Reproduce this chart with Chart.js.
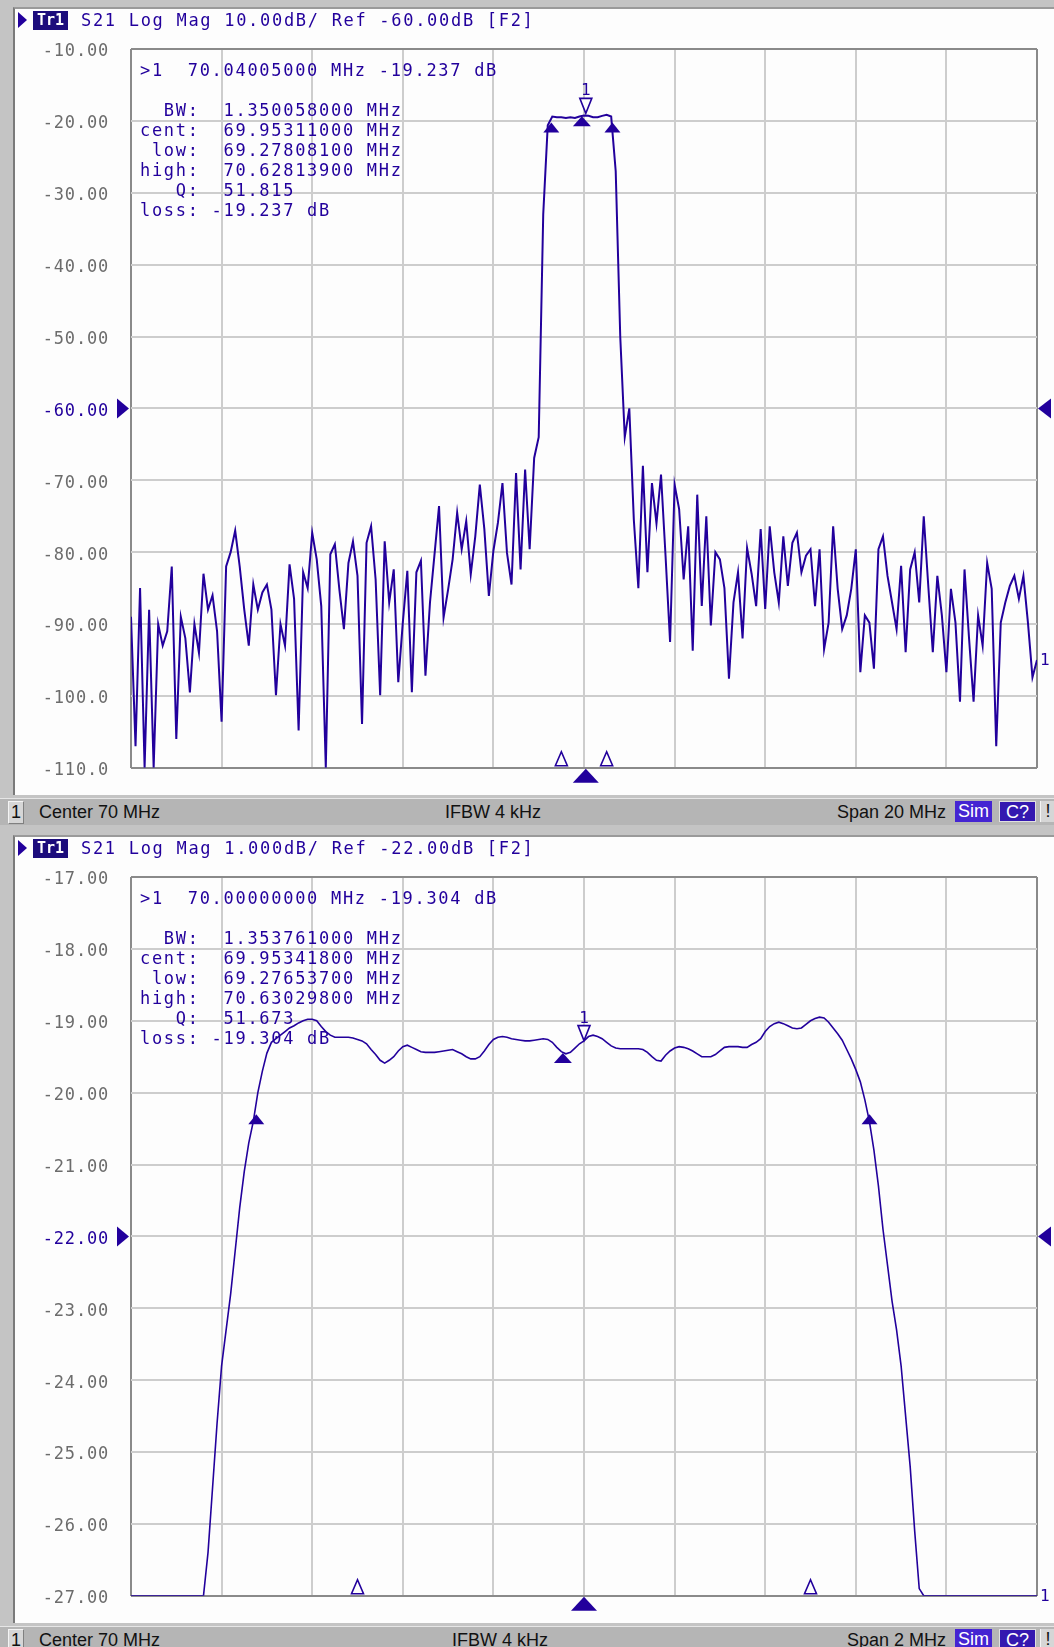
<!DOCTYPE html>
<html lang="en">
<head>
<meta charset="UTF-8">
<title>S21 Log Mag</title>
<script src="https://cdn.jsdelivr.net/npm/chart.js"></script>
<style>
  html, body { margin: 0; padding: 0; }
  body {
    width: 1054px; height: 1647px; overflow: hidden; position: relative;
    background: #c4c4c4;
    font-family: "DejaVu Sans Mono", monospace;
  }
  .panel { position: absolute; left: 0; width: 1054px; height: 828px; }
  .sheet {
    position: absolute; left: 13px; top: 7px; width: 1041px; height: 788px;
    background: #fdfdfd; border-left: 2px solid #7a7a7a; border-top: 2px solid #9a9a9a;
    box-sizing: border-box;
  }
  .panel canvas { position: absolute; left: 0; top: 0; }
  .mono {
    position: absolute; font-size: 17px; letter-spacing: 1.7px; color: #22009c;
    white-space: pre; line-height: 20px;
  }
  .hdr { top: 9px; left: 81px; line-height: 22px; }
  .tri-r {
    position: absolute; left: 18px; top: 12px; width: 0; height: 0;
    border-top: 8px solid transparent; border-bottom: 8px solid transparent;
    border-left: 9px solid #22009c;
  }
  .trtag {
    position: absolute; left: 33px; top: 11px; width: 35px; height: 19px;
    background: #1c0c7c; color: #fff; font-size: 15px; line-height: 19px;
    text-align: center; font-weight: bold;
  }
  .status {
    position: absolute; left: 0; top: 798px; width: 1054px; height: 26px;
    background: #b5b5b5; border-top: 1px solid #e6e6e6;
    font-family: "Liberation Sans", Arial, sans-serif; font-size: 18px; color: #111;
  }
  .status span { position: absolute; top: 0; line-height: 26px; }
  .status .box1 {
    left: 8px; top: 2px; width: 14px; height: 21px; line-height: 21px; text-align: center;
    background: #d6d6d6; border: 1px solid #f4f4f4; border-right-color: #808080; border-bottom-color: #808080;
  }
  .status .sim, .status .cq {
    top: 2px; width: 37px; height: 21px; line-height: 21px; text-align: center; color: #fff;
  }
  .status .sim { left: 955px; background: #4424d2; }
  .status .cq { left: 999px; background: #3418b0; border: 1px solid #e0e0e0; box-sizing: border-box; }
  .status .bang {
    left: 1040px; top: 2px; width: 14px; height: 21px; line-height: 21px; text-align: center;
    background: #d6d6d6; border-left: 1px solid #f4f4f4;
  }
</style>
</head>
<body>

<div class="panel" style="top:0">
  <div class="sheet"></div>
  <canvas id="topChart" width="1054" height="800"></canvas>
  <div class="tri-r"></div>
  <div class="trtag">Tr1</div>
  <div class="mono hdr">S21 Log Mag 10.00dB/ Ref -60.00dB [F2]</div>
  <div class="mono" style="left:140px; top:60px">&gt;1  70.04005000 MHz -19.237 dB

  BW:  1.350058000 MHz
cent:  69.95311000 MHz
 low:  69.27808100 MHz
high:  70.62813900 MHz
   Q:  51.815
loss: -19.237 dB</div>
  <div class="status">
    <span class="box1">1</span>
    <span style="left:39px">Center 70 MHz</span>
    <span style="left:445px">IFBW 4 kHz</span>
    <span style="right:108px">Span 20 MHz</span>
    <span class="sim">Sim</span>
    <span class="cq">C?</span>
    <span class="bang">!</span>
  </div>
</div>

<div class="panel" style="top:828px">
  <div class="sheet"></div>
  <canvas id="botChart" width="1054" height="800"></canvas>
  <div class="tri-r"></div>
  <div class="trtag">Tr1</div>
  <div class="mono hdr">S21 Log Mag 1.000dB/ Ref -22.00dB [F2]</div>
  <div class="mono" style="left:140px; top:60px">&gt;1  70.00000000 MHz -19.304 dB

  BW:  1.353761000 MHz
cent:  69.95341800 MHz
 low:  69.27653700 MHz
high:  70.63029800 MHz
   Q:  51.673
loss: -19.304 dB</div>
  <div class="status">
    <span class="box1">1</span>
    <span style="left:39px">Center 70 MHz</span>
    <span style="left:452px">IFBW 4 kHz</span>
    <span style="right:108px">Span 2 MHz</span>
    <span class="sim">Sim</span>
    <span class="cq">C?</span>
    <span class="bang">!</span>
  </div>
</div>

<script>
// colours
const TRACE = '#22009c';
const GRID = '#cdcdcd';
const EDGE = '#8a8a8a';
const LABEL = '#6c6c6c';

// top trace: 60 - 80 MHz sweep, 201 points, dB
const topStart = 60, topStop = 80;
const topMag = [
  -89, -107, -85, -110, -88, -110, -90, -93, -91, -82,
  -106, -89, -92, -99.5, -90, -94, -83, -88, -86, -91,
  -103.6, -82, -80, -77, -82, -88, -93, -84.5, -88, -85.6,
  -84.5, -88, -99.9, -90, -93, -81.7, -86.5, -104.8, -82.8, -85,
  -77.3, -81, -87.5, -110, -80.3, -78.9, -85.2, -90.7, -81.5, -78.5,
  -83.3, -103.9, -78.7, -76.4, -83.8, -99.9, -78.5, -87, -82.4, -98.1,
  -89.8, -82.6, -99.5, -82.8, -81.2, -97.2, -87, -80.3, -73.6, -89.1,
  -85.2, -81, -74.5, -79.6, -75.7, -83.1, -77.8, -70.6, -76.8, -86.1,
  -79.8, -75.9, -70.4, -80.1, -84.5, -69, -82.4, -68.5, -79.6, -66.9,
  -64, -33, -20.6, -19.4, -19.5, -19.5, -19.6, -19.5, -19.6, -19.4,
  -19.25, -19.3, -19.5, -19.5, -19.3, -19.15, -19.4, -27, -50, -64,
  -60, -75.5, -85, -68, -82.8, -70.4, -76, -69.2, -80.5, -92.5,
  -70.6, -74, -83.8, -76.4, -93.7, -72, -87.5, -75, -90.2, -80,
  -81, -85, -97.6, -87, -82.8, -92, -79.4, -83, -87.5, -76.8,
  -87.9, -76.4, -82.8, -87, -77.8, -84.7, -78.7, -77.3, -82.8, -80.5,
  -79.6, -87.5, -79.6, -93.5, -89.8, -76.4, -85.1, -90.7, -88.8, -85.1,
  -79.6, -96.7, -88.8, -89.8, -96.2, -79.6, -77.8, -83.3, -87, -90.7,
  -81.9, -93.9, -82.4, -80, -87, -75, -84.7, -93.9, -83.3, -88.8,
  -96.7, -85.1, -89.8, -100.8, -82.4, -92, -100.8, -88.8, -93, -81.5,
  -85.1, -107, -89.8, -87, -84.7, -83.3, -86.5, -83.3, -89.8, -97.4,
  -95
];

// bottom trace: 69 - 71 MHz sweep, 201 points, dB (clipped at -27)
const botStart = 69, botStop = 71;
const botMag = [
  -27, -27, -27, -27, -27, -27, -27, -27, -27, -27,
  -27, -27, -27, -27, -27, -27, -27, -26.4, -25.5, -24.6,
  -23.8, -23.3, -22.8, -22.2, -21.6, -21.1, -20.7, -20.4, -20.0, -19.7,
  -19.45, -19.3, -19.25, -19.2, -19.15, -19.1, -19.07, -19.03, -19.0, -18.98,
  -18.98, -19.0, -19.08, -19.15, -19.2, -19.23, -19.23, -19.23, -19.23, -19.24,
  -19.26, -19.28, -19.32, -19.4, -19.47, -19.55, -19.59, -19.55, -19.5, -19.42,
  -19.36, -19.34, -19.37, -19.4, -19.43, -19.44, -19.44, -19.44, -19.43, -19.42,
  -19.41, -19.4, -19.43, -19.46, -19.5, -19.53, -19.53, -19.5, -19.42, -19.33,
  -19.26, -19.23, -19.22, -19.23, -19.25, -19.26, -19.27, -19.28, -19.28, -19.27,
  -19.26, -19.25, -19.26, -19.3, -19.37, -19.43, -19.46, -19.44, -19.38, -19.32,
  -19.28, -19.22, -19.2, -19.22, -19.25, -19.3, -19.35, -19.38, -19.39, -19.39,
  -19.39, -19.39, -19.39, -19.4, -19.44, -19.5, -19.55, -19.56, -19.48, -19.42,
  -19.38, -19.36, -19.37, -19.39, -19.42, -19.46, -19.5, -19.5, -19.5, -19.47,
  -19.42, -19.37, -19.36, -19.36, -19.36, -19.37, -19.37, -19.33, -19.3, -19.25,
  -19.15, -19.08, -19.04, -19.02, -19.04, -19.07, -19.1, -19.11, -19.1, -19.05,
  -19.0, -18.97, -18.95, -18.96, -19.02, -19.1, -19.18, -19.27, -19.4, -19.53,
  -19.68, -19.85, -20.1, -20.4, -20.8, -21.3, -21.9, -22.4, -22.9, -23.3,
  -23.8, -24.5, -25.2, -26.1, -26.9, -27, -27, -27, -27, -27,
  -27, -27, -27, -27, -27, -27, -27, -27, -27, -27,
  -27, -27, -27, -27, -27, -27, -27, -27, -27, -27,
  -27
];

// y tick labels, top to bottom
const topYLabels = ['-10.00', '-20.00', '-30.00', '-40.00', '-50.00', '-60.00',
                    '-70.00', '-80.00', '-90.00', '-100.0', '-110.0'];
const botYLabels = ['-17.00', '-18.00', '-19.00', '-20.00', '-21.00', '-22.00',
                    '-23.00', '-24.00', '-25.00', '-26.00', '-27.00'];

// markers: bandwidth low / centre / high, marker 1, stimulus indicators
const topMarkFreq = [69.27808, 69.95311, 70.62814];
const topMarkMag = [-20.24, -19.35, -20.24];
const topM1 = [70.04005, -19.237];
const topStim = [69.5, 70.5];

const botMarkFreq = [69.276537, 69.953418, 70.630298];
const botMarkMag = [-20.30, -19.45, -20.30];
const botM1 = [70.0, -19.304];
const botStim = [69.5, 70.5];

function overlay(cfg) {
  return {
    id: 'overlay',
    beforeDraw(chart) { chart.ctx.letterSpacing = '0.8px'; },
    afterDatasetsDraw(chart) {
      const {ctx, chartArea: a} = chart;
      const x = chart.scales.x, y = chart.scales.y;
      ctx.save();
      ctx.letterSpacing = '0px';
      ctx.fillStyle = TRACE;
      ctx.strokeStyle = TRACE;
      ctx.lineWidth = 1.6;
      const tri = (p, fill) => {
        ctx.beginPath();
        ctx.moveTo(p[0][0], p[0][1]);
        ctx.lineTo(p[1][0], p[1][1]);
        ctx.lineTo(p[2][0], p[2][1]);
        ctx.closePath();
        if (fill) { ctx.fill(); } else { ctx.fillStyle = '#fdfdfd'; ctx.fill(); ctx.stroke(); ctx.fillStyle = TRACE; }
      };

      cfg.markFreq.forEach((f, i) => {
        const px = x.getPixelForValue(f), py = y.getPixelForValue(cfg.markMag[i]);
        const w = i === 1 ? 9 : 8;
        tri([[px, py], [px - w, py + 10], [px + w, py + 10]], true);
      });

      // marker 1
      const mx = x.getPixelForValue(cfg.m1[0]), my = y.getPixelForValue(cfg.m1[1]);
      tri([[mx, my - 2], [mx - 6, my - 17], [mx + 6, my - 17]], false);
      ctx.font = '16px "DejaVu Sans Mono"';
      ctx.textAlign = 'center';
      ctx.textBaseline = 'alphabetic';
      ctx.fillText('1', mx, my - 20);

      // stimulus indicators on the bottom edge
      tri([[mx, a.bottom + 1], [mx - 13, a.bottom + 15], [mx + 13, a.bottom + 15]], true);
      cfg.stim.forEach(f => {
        const px = x.getPixelForValue(f);
        tri([[px, a.bottom - 16], [px - 6, a.bottom - 2], [px + 6, a.bottom - 2]], false);
      });

      // reference level arrows
      const ry = y.getPixelForValue(cfg.ref);
      tri([[a.left - 2, ry], [a.left - 14, ry - 10], [a.left - 14, ry + 10]], true);
      tri([[a.right + 1, ry], [a.right + 14, ry - 10], [a.right + 14, ry + 10]], true);

      // trace label at the end of the sweep
      const pts = chart.data.datasets[0].data;
      const ly = y.getPixelForValue(pts[pts.length - 1].y);
      ctx.textAlign = 'left';
      ctx.textBaseline = 'middle';
      ctx.fillText('1', a.right + 3, ly + 1);
      ctx.restore();
    }
  };
}

function makeChart(id, cfg) {
  const n = cfg.mag.length;
  const pts = cfg.mag.map((v, i) => ({x: cfg.start + i * (cfg.stop - cfg.start) / (n - 1), y: v}));
  const isEdge = (v, lo, hi) => Math.abs(v - lo) < 1e-6 || Math.abs(v - hi) < 1e-6;
  return new Chart(document.getElementById(id), {
    type: 'line',
    data: {
      datasets: [{
        data: pts,
        borderColor: TRACE,
        borderWidth: cfg.lineWidth,
        pointRadius: 0,
        stepped: false,
        tension: 0,
        fill: false
      }]
    },
    options: {
      responsive: false,
      animation: false,
      devicePixelRatio: 1,
      layout: {padding: {top: 49, bottom: 28, right: 17, left: 0}},
      plugins: {legend: {display: false}, tooltip: {enabled: false}},
      scales: {
        x: {
          type: 'linear', min: cfg.start, max: cfg.stop,
          ticks: {display: false, stepSize: (cfg.stop - cfg.start) / 10, autoSkip: false},
          grid: {drawTicks: false, lineWidth: 2,
                 color: c => isEdge(c.tick.value, cfg.start, cfg.stop) ? EDGE : GRID},
          border: {display: false},
          afterFit: s => { s.height = 0; }
        },
        y: {
          min: cfg.yMin, max: cfg.yMax,
          ticks: {
            stepSize: (cfg.yMax - cfg.yMin) / 10, autoSkip: false, padding: 22, labelOffset: 3,
            font: {family: 'DejaVu Sans Mono', size: 17},
            color: c => Math.abs(c.tick.value - cfg.ref) < 1e-6 ? TRACE : LABEL,
            callback: v => cfg.labels[Math.round((cfg.yMax - v) / ((cfg.yMax - cfg.yMin) / 10))]
          },
          grid: {drawTicks: false, lineWidth: 2,
                 color: c => isEdge(c.tick.value, cfg.yMin, cfg.yMax) ? EDGE : GRID},
          border: {display: false},
          afterFit: s => { s.width = 131; }
        }
      }
    },
    plugins: [overlay(cfg)]
  });
}

makeChart('topChart', {
  start: topStart, stop: topStop, mag: topMag, yMin: -110, yMax: -10, ref: -60,
  labels: topYLabels, lineWidth: 2,
  markFreq: topMarkFreq, markMag: topMarkMag, m1: topM1, stim: topStim
});

makeChart('botChart', {
  start: botStart, stop: botStop, mag: botMag, yMin: -27, yMax: -17, ref: -22,
  labels: botYLabels, lineWidth: 1.6,
  markFreq: botMarkFreq, markMag: botMarkMag, m1: botM1, stim: botStim
});
</script>
</body>
</html>
